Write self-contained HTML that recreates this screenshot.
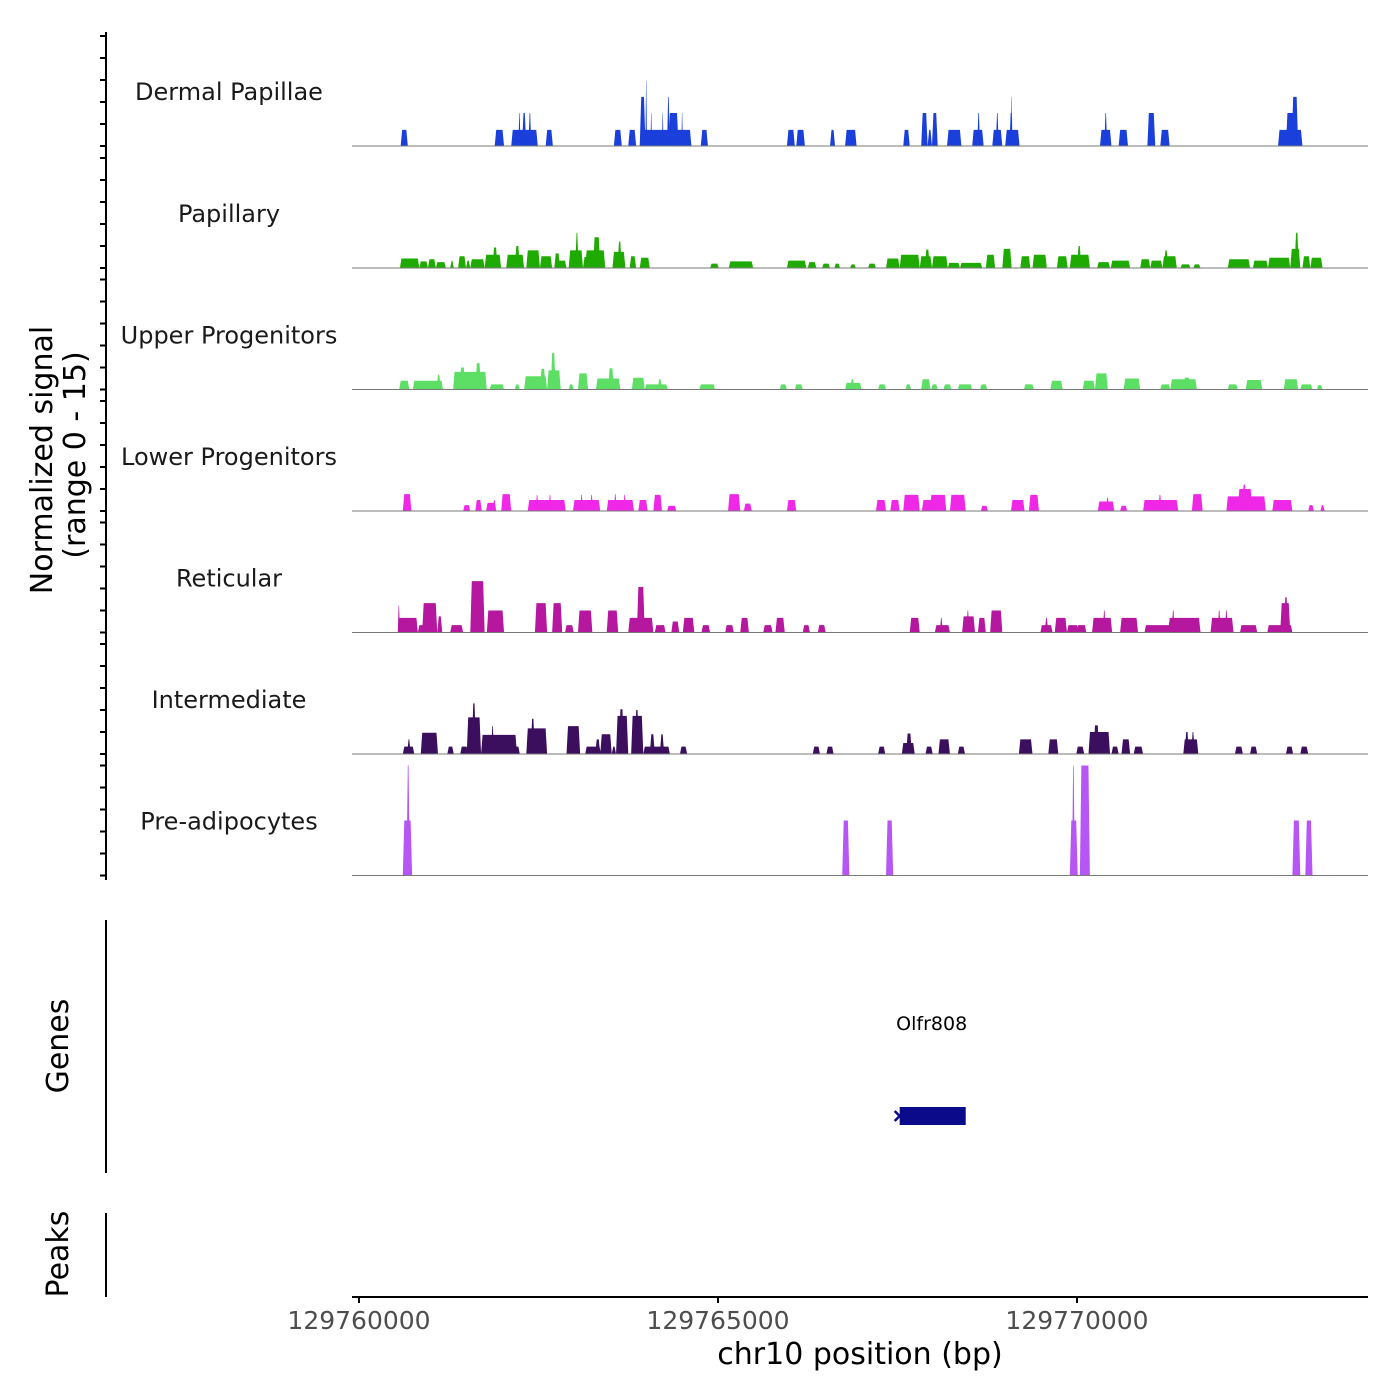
<!DOCTYPE html>
<html><head><meta charset="utf-8"><style>
body{margin:0;background:#fff}
svg{display:block;font-family:"DejaVu Sans","Liberation Sans",sans-serif}
</style></head><body>
<svg id="chart" width="1400" height="1400" viewBox="0 0 1400 1400">
<g id="tracks"></g>
<g id="axes"></g>
</svg>
<script>
const trackNames = ["Dermal Papillae","Papillary","Upper Progenitors","Lower Progenitors","Reticular","Intermediate","Pre-adipocytes"];
const trackColors = ["#1a3fdb","#1faa00","#5ddf66","#ef27e6","#b5179e","#3b0f5e","#b657f5"];
// blocks: [start kb offset from 129760000, end kb, signal]
const dermal = [[0.58,0.68,2.2],[1.89,2.02,2.2],[2.12,2.49,2.2],[2.22,2.25,4.5],[2.27,2.33,4.5],[2.36,2.40,4.5],[2.60,2.70,2.2],[3.55,3.66,2.2],[3.75,3.86,2.2],[3.91,4.63,2.2],[3.91,3.99,6.7],[3.99,4.01,8.9],[4.06,4.08,4.5],[4.22,4.24,4.5],[4.29,4.33,6.7],[4.31,4.45,4.5],[4.49,4.51,4.5],[4.76,4.86,2.2],[5.96,6.07,2.2],[6.09,6.21,2.2],[6.56,6.63,2.2],[6.77,6.93,2.2],[7.58,7.67,2.2],[7.83,7.92,4.5],[7.92,7.98,2.2],[7.98,8.06,4.5],[8.19,8.39,2.2],[8.54,8.70,2.2],[8.61,8.65,4.5],[8.82,8.96,2.2],[8.87,8.91,4.5],[9.00,9.20,2.2],[9.06,9.10,4.5],[9.08,9.10,6.7],[10.32,10.48,2.2],[10.38,10.42,4.5],[10.58,10.71,2.2],[10.98,11.09,4.5],[11.16,11.29,2.2],[12.80,13.14,2.2],[12.91,13.08,4.5],[12.99,13.08,6.7]];
const papillary = [[0.57,0.84,1.3],[0.84,0.96,0.9],[0.96,1.07,1.2],[1.07,1.21,0.8],[1.27,1.32,1.0],[1.38,1.49,1.6],[1.49,1.55,1.0],[1.55,1.75,1.2],[1.75,1.98,1.8],[1.86,1.93,2.8],[2.05,2.30,1.8],[2.17,2.24,3.0],[2.33,2.52,2.4],[2.52,2.69,1.6],[2.72,2.80,2.0],[2.75,2.89,1.0],[2.92,3.12,2.4],[3.01,3.06,4.8],[3.12,3.20,1.5],[3.15,3.43,2.4],[3.26,3.36,4.2],[3.53,3.71,2.2],[3.60,3.66,3.6],[3.77,3.86,1.6],[3.91,4.05,1.4],[4.89,5.01,0.6],[5.15,5.49,0.9],[5.96,6.23,1.0],[6.25,6.37,0.8],[6.45,6.56,0.6],[6.62,6.70,0.6],[6.84,6.92,0.5],[7.09,7.20,0.6],[7.34,7.53,1.3],[7.53,7.81,1.8],[7.81,7.98,1.6],[7.88,7.95,2.5],[7.98,8.20,1.6],[8.20,8.37,0.7],[8.37,8.68,0.7],[8.73,8.86,1.8],[8.96,9.09,2.6],[9.21,9.35,1.6],[9.38,9.58,1.8],[9.72,9.87,1.6],[9.90,10.18,1.8],[10.00,10.06,3.0],[10.28,10.46,0.8],[10.47,10.74,1.0],[10.88,11.02,1.2],[11.02,11.19,1.0],[11.19,11.39,1.6],[11.21,11.27,2.4],[11.44,11.58,0.5],[11.62,11.72,0.5],[12.10,12.41,1.2],[12.45,12.66,1.0],[12.66,12.97,1.4],[12.97,13.11,2.6],[13.03,13.09,4.8],[13.14,13.25,1.6],[13.25,13.42,1.4]];
const upper = [[0.56,0.70,1.2],[0.75,1.17,1.2],[1.08,1.14,2.0],[1.31,1.78,2.4],[1.40,1.48,3.0],[1.62,1.70,3.6],[1.82,2.02,0.7],[2.17,2.24,0.7],[2.30,2.62,1.8],[2.52,2.60,2.8],[2.62,2.81,2.6],[2.67,2.74,5.0],[2.92,2.99,0.7],[3.05,3.19,2.2],[3.30,3.64,1.5],[3.47,3.55,2.9],[3.80,3.98,1.6],[3.98,4.30,0.7],[4.16,4.22,1.4],[4.74,4.96,0.7],[5.86,5.96,0.7],[6.07,6.18,0.7],[6.77,7.00,0.9],[6.84,6.90,1.4],[7.23,7.34,0.7],[7.61,7.69,0.7],[7.83,7.96,1.4],[7.97,8.06,0.7],[8.14,8.25,0.7],[8.34,8.54,0.7],[8.65,8.75,0.7],[9.26,9.40,0.7],[9.63,9.80,1.2],[10.08,10.25,1.2],[10.25,10.43,2.2],[10.65,10.88,1.5],[11.16,11.30,0.7],[11.30,11.67,1.4],[11.48,11.58,1.6],[12.10,12.24,0.7],[12.35,12.58,1.3],[12.88,13.08,1.4],[13.11,13.28,0.7],[13.34,13.42,0.6]];
const lower = [[0.61,0.73,2.3],[1.45,1.55,0.8],[1.62,1.71,1.5],[1.77,1.91,1.1],[1.86,1.91,1.5],[1.98,2.12,2.3],[2.35,2.88,1.5],[2.46,2.50,2.2],[2.64,2.68,2.2],[2.98,3.36,1.5],[3.08,3.12,2.2],[3.22,3.26,2.2],[3.45,3.83,1.5],[3.55,3.59,2.3],[3.68,3.72,2.2],[3.89,4.02,1.5],[4.10,4.22,2.2],[4.29,4.42,0.7],[5.14,5.31,2.3],[5.36,5.47,1.0],[5.96,6.09,1.5],[7.20,7.34,1.5],[7.40,7.53,1.5],[7.58,7.81,2.2],[7.84,8.06,1.5],[7.95,8.18,2.2],[8.23,8.45,2.2],[8.66,8.76,0.7],[9.08,9.27,1.5],[9.33,9.47,2.2],[10.29,10.52,1.3],[10.40,10.45,1.8],[10.60,10.70,0.7],[10.92,11.41,1.5],[11.13,11.18,2.2],[11.60,11.75,2.3],[12.08,12.63,2.0],[12.24,12.44,3.0],[12.30,12.36,3.6],[12.72,13.00,1.5],[13.22,13.30,0.8],[13.39,13.45,0.8]];
const reticular = [[0.54,0.82,2.0],[0.54,0.57,3.7],[0.82,0.91,1.0],[0.88,1.09,4.0],[1.09,1.16,2.2],[1.27,1.45,1.0],[1.55,1.75,7.0],[1.78,2.02,3.0],[2.45,2.62,4.0],[2.69,2.83,4.0],[2.87,2.99,1.0],[3.05,3.25,3.0],[3.45,3.61,3.0],[3.75,4.10,2.0],[3.87,3.98,6.2],[4.12,4.27,1.0],[4.35,4.46,1.5],[4.51,4.67,2.0],[4.77,4.89,1.0],[5.10,5.22,1.0],[5.31,5.43,2.0],[5.63,5.76,1.0],[5.80,5.93,2.0],[6.18,6.28,1.0],[6.39,6.50,1.0],[7.67,7.81,2.0],[8.02,8.23,1.0],[8.09,8.13,2.0],[8.40,8.58,2.2],[8.46,8.50,3.0],[8.62,8.73,2.0],[8.79,8.96,3.0],[9.49,9.66,1.0],[9.55,9.60,2.0],[9.69,9.86,2.0],[9.86,10.02,1.0],[9.99,10.13,1.0],[10.21,10.49,2.0],[10.36,10.40,3.0],[10.60,10.85,2.0],[10.94,11.72,1.0],[11.27,11.72,2.0],[11.32,11.36,3.0],[11.86,12.18,2.0],[11.96,12.00,3.0],[12.06,12.10,3.0],[12.27,12.51,1.0],[12.65,13.00,1.0],[12.83,12.97,4.0],[12.88,12.94,4.8]];
const intermediate = [[0.61,0.77,1.0],[0.67,0.72,2.0],[0.86,1.10,2.9],[1.23,1.32,1.0],[1.41,1.52,1.0],[1.50,1.70,5.0],[1.57,1.63,6.9],[1.70,2.24,1.0],[1.70,2.20,2.6],[1.84,1.88,3.8],[2.33,2.62,3.5],[2.39,2.45,4.8],[2.89,3.08,3.8],[3.15,3.37,1.0],[3.29,3.36,2.0],[3.36,3.52,2.7],[3.52,3.58,1.0],[3.58,3.75,5.2],[3.62,3.69,6.1],[3.79,3.96,5.2],[3.84,3.90,6.0],[3.96,4.33,1.0],[4.05,4.12,2.7],[4.19,4.25,2.7],[4.47,4.57,1.0],[6.32,6.42,1.0],[6.51,6.61,1.0],[7.23,7.33,1.0],[7.56,7.74,1.5],[7.62,7.70,2.8],[7.89,7.99,1.0],[8.07,8.23,2.0],[8.34,8.44,1.0],[9.19,9.38,2.0],[9.60,9.74,2.0],[9.99,10.10,1.0],[10.16,10.46,3.0],[10.23,10.31,3.9],[10.48,10.58,1.0],[10.62,10.74,2.0],[10.79,10.92,1.0],[11.48,11.69,2.0],[11.50,11.56,3.0],[11.59,11.64,3.0],[12.20,12.31,1.0],[12.41,12.51,1.0],[12.91,13.01,1.0],[13.11,13.22,1.0]];
const preadipo = [[0.61,0.74,7.5],[0.66,0.71,15],[6.73,6.83,7.5],[7.34,7.44,7.5],[9.90,10.01,7.5],[9.93,9.97,15],[10.04,10.18,15],[13.00,13.11,7.5],[13.18,13.28,7.5]];
const tracksData = [dermal,papillary,upper,lower,reticular,intermediate,preadipo];
const xTicks = [129760000,129765000,129770000];
const xTickLabels = ["129760000","129765000","129770000"];
const yTicks = [0,3,6,9,12,15];
const geneName = "Olfr808";
const geneStart = 129767530, geneEnd = 129768450;

const NS='http://www.w3.org/2000/svg';
const x0=359, pxPerBp=359/5000, BASE=129760000;
const xs = bp => x0 + (bp-BASE)*pxPerBp;
const xk = kb => xs(BASE+kb*1000);
const baselines=[146,268,389.5,511,632.5,754,875.5];
const ys = (b,v) => b - v*110/15;
function mk(tag,attrs,parent){const e=document.createElementNS(NS,tag);for(const k in attrs)e.setAttribute(k,attrs[k]);parent.appendChild(e);return e;}
const gT=document.getElementById('tracks'), gA=document.getElementById('axes');

tracksData.forEach((blocks,i)=>{
  const b=baselines[i];
  const g=mk('g',{},gT);
  
  
  blocks.forEach(([s,e,v])=>{
    const a=xk(s), c=xk(e), t=ys(b,v), r=Math.min(1.5,(c-a)/2.5);
    const p=mk('polygon',{points:`${a},${b} ${a+r},${t} ${c-r},${t} ${c},${b}`,fill:trackColors[i]},g);
    
    
  });
  const ln=mk('line',{x1:352,x2:1368,y1:b,y2:b,stroke:'#7a7a7a','stroke-width':1},g);
  
  
  const lb=mk('text',{x:229,y:b-46,'text-anchor':'middle','font-size':24,fill:'#1a1a1a'},g);
  lb.textContent=trackNames[i];
  
  
  yTicks.forEach(v=>{
    const tk=mk('line',{x1:100,x2:106,y1:ys(b,v),y2:ys(b,v),stroke:'#000','stroke-width':2},gA);
    
    
  });
});
[[32,880,'signal-y-axis'],[920,1173,'genes-axis'],[1213,1297,'peaks-axis']].forEach(([a,c,n])=>{
  const l=mk('line',{x1:106,x2:106,y1:a,y2:c,stroke:'#000','stroke-width':2},gA);
  
  
});
const xa=mk('line',{x1:352,x2:1368,y1:1297,y2:1297,stroke:'#000','stroke-width':2},gA);


xTicks.forEach((t,i)=>{
  const tk=mk('line',{x1:xs(t),x2:xs(t),y1:1297,y2:1303,stroke:'#000','stroke-width':2},gA);
  
  
  const tl=mk('text',{x:xs(t),y:1329,'text-anchor':'middle','font-size':25,fill:'#4d4d4d'},gA);
  tl.textContent=xTickLabels[i];
  
  
});
const gs=xs(geneStart), ge=xs(geneEnd);
const gr=mk('rect',{x:gs,y:1107,width:ge-gs,height:18,fill:'#0a0a8a'},gA);


const ch=mk('polyline',{points:`${gs-5},1111 ${gs},1116 ${gs-5},1121`,fill:'none',stroke:'#0a0a8a','stroke-width':2.5},gA);


const gl=mk('text',{x:(gs+ge)/2-1,y:1030,'text-anchor':'middle','font-size':19,fill:'#000'},gA);
gl.textContent=geneName;


</script>
<div style="position:absolute;left:0;top:0;width:1400px;height:1400px;pointer-events:none">
<svg width="1400" height="1400" style="position:absolute;left:0;top:0;font-family:'DejaVu Sans','Liberation Sans',sans-serif">
<text transform="translate(52,460) rotate(-90)" text-anchor="middle" font-size="30" fill="#000">Normalized signal</text>
<text transform="translate(85,455) rotate(-90)" text-anchor="middle" font-size="30" fill="#000">(range 0 - 15)</text>
<text transform="translate(68,1046) rotate(-90)" text-anchor="middle" font-size="30" fill="#000">Genes</text>
<text transform="translate(68,1254) rotate(-90)" text-anchor="middle" font-size="30" fill="#000">Peaks</text>
<text x="860" y="1364" text-anchor="middle" font-size="30" fill="#000">chr10 position (bp)</text>
</svg></div>
</body></html>
